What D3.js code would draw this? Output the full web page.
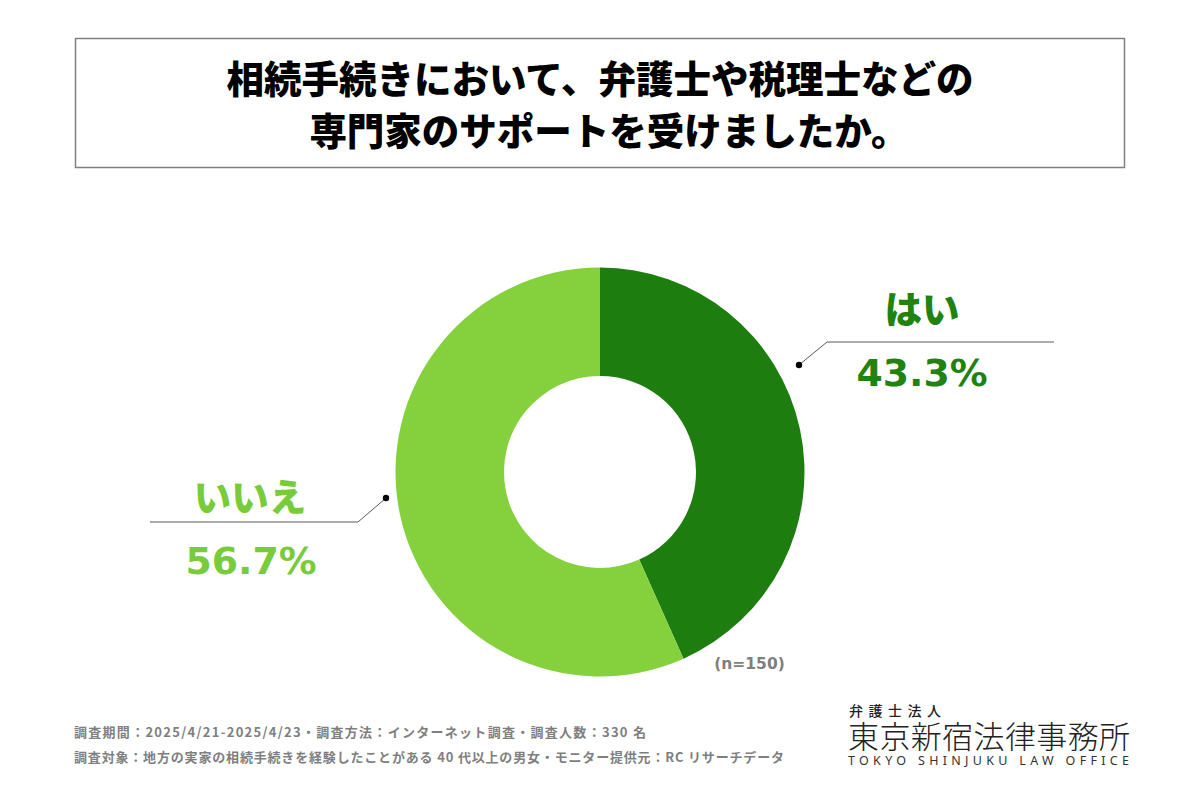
<!DOCTYPE html>
<html><head><meta charset="utf-8">
<script src="https://cdn.jsdelivr.net/npm/d3@7"></script>
<style>html,body{margin:0;padding:0;background:#fff}svg{display:block}</style>
</head><body><svg id="c" width="1200" height="800"></svg>
<script>
const categories = ["はい", "いいえ"];
const values = [43.3, 56.7];
const colors = ["#1e7d0f", "#84d03d"];
const labelColors = ["#20820f", "#78cb3a"];
const valueLabels = ["43.3%", "56.7%"];
const titleLines = ["相続手続きにおいて、弁護士や税理士などの", "専門家のサポートを受けましたか。"];
const noteLines = ["調査期間：2025/4/21-2025/4/23・調査方法：インターネット調査・調査人数：330 名",
 "調査対象：地方の実家の相続手続きを経験したことがある 40 代以上の男女・モニター提供元：RC リサーチデータ"];
const sampleLabel = "(n=150)";
const logoLines = ["弁護士法人", "東京新宿法律事務所", "TOKYO SHINJUKU LAW OFFICE"];

const font = '"Noto Sans CJK JP","Noto Sans",sans-serif';
const wide = '"DejaVu Sans","Noto Sans CJK JP",sans-serif';
const svg = d3.select("#c").attr("font-family", font);
svg.append("rect").attr("x",75.5).attr("y",38.5).attr("width",1049).attr("height",129)
  .attr("fill","#fff").attr("stroke","#7f7f7f").attr("stroke-width",1.5);
svg.selectAll("text.t").data(titleLines).join("text").attr("class","t")
  .attr("x",(d,i)=>i?609:600).attr("y",(d,i)=>93+i*52).attr("text-anchor","middle")
  .attr("font-size",37.5).attr("font-weight",900).attr("fill","#000").text(d=>d);

const cx=600, cy=472;
const pie=d3.pie().sort(null)(values);
const arc=d3.arc().innerRadius(96).outerRadius(204.5);
const g=svg.append("g").attr("transform",`translate(${cx},${cy})`);
g.selectAll("path").data(pie).join("path").attr("d",arc).attr("fill",(d,i)=>colors[i]);

const leaders=[
  {pts:[[799,365],[827,342],[1054,342]], lx:922, ly:323, vy:386},
  {pts:[[386,498],[358,522],[150,522]], lx:250, ly:511, vy:574}
];
leaders.forEach((l,i)=>{
  svg.append("path").attr("d",d3.line()(l.pts)).attr("fill","none").attr("stroke","#5a5a5a").attr("stroke-width",1);
  svg.append("circle").attr("cx",l.pts[0][0]).attr("cy",l.pts[0][1]).attr("r",3.2).attr("fill","#000");
  svg.append("text").attr("x",l.lx).attr("y",l.ly).attr("text-anchor","middle").attr("font-size",37.5)
    .attr("font-weight",900).attr("fill",labelColors[i]).text(categories[i]);
  svg.append("text").attr("x",l.lx-(i?-1:0)).attr("y",l.vy).attr("text-anchor","middle").attr("font-size",37.8)
    .attr("font-weight",700).attr("fill",labelColors[i]).attr("font-family",wide).text(valueLabels[i]);
});
svg.append("text").attr("x",749.5).attr("y",669).attr("text-anchor","middle").attr("font-size",15.5)
  .attr("font-weight",700).attr("fill","#7f7f7f").attr("font-family",wide).text(sampleLabel);

svg.selectAll("text.n").data(noteLines).join("text").attr("class","n")
  .attr("x",74).attr("y",(d,i)=>737+i*25).attr("font-size",13).attr("font-weight",700)
  .attr("fill","#7f7f7f").attr("textLength",(d,i)=>i?710:572).attr("lengthAdjust","spacing").text(d=>d);

svg.append("text").attr("x",849).attr("y",716).attr("font-size",14).attr("fill","#222").attr("font-weight",500)
  .attr("textLength",92).text(logoLines[0]);
svg.append("text").attr("x",848).attr("y",748).attr("font-size",31).attr("fill","#222").attr("font-weight",300)
  .attr("textLength",282).text(logoLines[1]);
svg.append("text").attr("x",848).attr("y",765).attr("font-size",12.5).attr("fill","#333")
  .attr("font-family",'"Noto Sans",sans-serif').attr("textLength",281).text(logoLines[2]);
</script></body></html>
